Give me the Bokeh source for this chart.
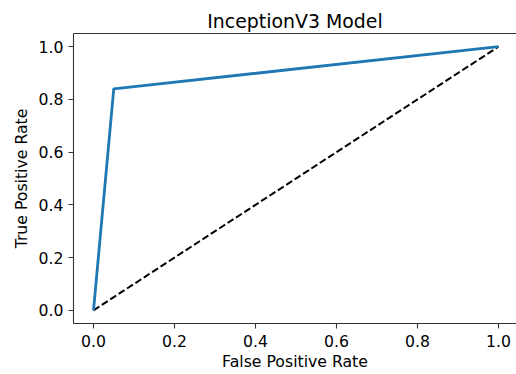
from bokeh.plotting import figure
from bokeh.models import LinearAxis, FixedTicker, PrintfTickFormatter, Range1d
from bokeh.embed import file_html
from bokeh.resources import INLINE

# ROC curve for the InceptionV3 classifier
fpr = [0.0, 0.05, 1.0]
tpr = [0.0, 0.84, 1.0]
chance_x = [0.0, 1.0]
chance_y = [0.0, 1.0]
tick_values = [0.0, 0.2, 0.4, 0.6, 0.8, 1.0]

FONT = "DejaVu Sans"
AXIS_COLOR = "#333333"
LABEL_SIZE = "15.7px"

p = figure(
    width=516, height=374,
    output_backend="svg", toolbar_location=None,
    x_range=Range1d(-0.0494, 1.0444), y_range=Range1d(-0.05, 1.05),
    min_border_left=73, min_border_right=0, min_border_top=33, min_border_bottom=51,
    title="InceptionV3 Model",
)
p.outline_line_color = None
p.grid.visible = False
p.background_fill_color = "white"
p.border_fill_color = "white"

p.title.align = "center"
p.title.text_font = FONT
p.title.text_font_size = "18.9px"
p.title.text_font_style = "normal"
p.title.text_color = "black"
p.title.standoff = 4

for ax in (p.xaxis[0], p.yaxis[0]):
    ax.ticker = FixedTicker(ticks=tick_values)
    ax.formatter = PrintfTickFormatter(format="%.1f")
    ax.major_label_text_font = FONT
    ax.major_label_text_font_size = LABEL_SIZE
    ax.major_label_text_color = "black"
    ax.axis_label_text_font = FONT
    ax.axis_label_text_font_size = LABEL_SIZE
    ax.axis_label_text_font_style = "normal"
    ax.axis_label_text_color = "black"
    ax.axis_line_color = AXIS_COLOR
    ax.axis_line_width = 1.1
    ax.major_tick_line_color = AXIS_COLOR
    ax.major_tick_line_width = 1.1
    ax.major_tick_out = 5
    ax.major_tick_in = 0
    ax.minor_tick_line_color = None

p.xaxis[0].axis_label = "False Positive Rate"
p.xaxis[0].major_label_standoff = 6
p.xaxis[0].axis_label_standoff = 2
p.yaxis[0].axis_label = "True Positive Rate"
p.yaxis[0].major_label_standoff = 5
p.yaxis[0].axis_label_standoff = 5

# top spine only: an axis with no ticks and no labels
top = LinearAxis(
    ticker=FixedTicker(ticks=[]),
    major_tick_line_color=None, minor_tick_line_color=None,
    major_label_standoff=0,
    axis_line_color=AXIS_COLOR, axis_line_width=1.1,
)
p.add_layout(top, "above")

p.line(chance_x, chance_y, line_color="black", line_width=2, line_dash="7 3")
p.line(fpr, tpr, line_color="#1f77b4", line_width=2.8, line_join="round")

open("out.html", "w").write(file_html(p, INLINE))
